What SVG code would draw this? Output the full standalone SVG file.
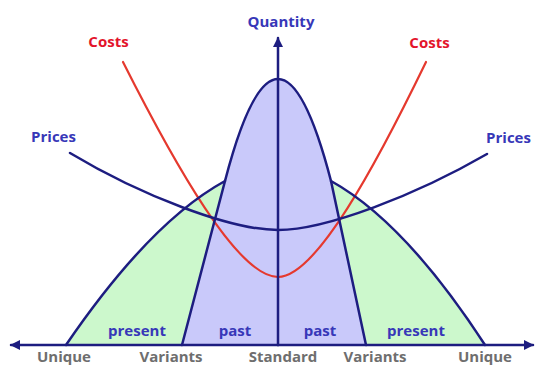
<svg xmlns="http://www.w3.org/2000/svg" width="535" height="365" viewBox="0 0 535 365">
  <defs>
    <style>
      .lbl { font-family: "Open Sans", "Liberation Sans", sans-serif; font-weight: bold; font-size: 15px; text-anchor: middle; }
      .blue { fill: #3737b8; }
      .red { fill: #e3142b; }
      .gray { fill: #6e6e6e; }
      .navy { fill: none; stroke: #1d1d80; stroke-width: 2.5; stroke-linejoin: round; stroke-linecap: round; }
      .cost { fill: none; stroke: #e5392e; stroke-width: 2.2; stroke-linecap: round; }
    </style>
    <marker id="arr" viewBox="0 0 10 10" refX="9" refY="5" markerWidth="10" markerHeight="10" markerUnits="userSpaceOnUse" orient="auto">
      <path d="M0,0 L10,5 L0,10 Z" fill="#1d1d80"/>
    </marker>
  </defs>
  <rect width="535" height="365" fill="#ffffff"/>

  <g id="areas">
    <path id="green" d="M66,345 Q150,222 225,181 L331,181 Q405,222 485,345 Z" fill="#ccf8cc"/>
    <path id="purple" d="M182,345 L225,181 Q278,-23 331,181 L366,345 Z" fill="#c9c9fa"/>
  </g>

  <g id="connectors">
    <path id="costs-curve" class="cost" d="M123,62 C175,165 238,277 278,277 C316,277 376,165 426,62"/>
    <path id="green-outline" class="navy" d="M66,345 Q150,222 225,181 M331,181 Q405,222 485,345"/>
    <path id="bell-outline" class="navy" d="M182,345 L225,181 Q278,-23 331,181 L366,345"/>
    <path id="prices-curve" class="navy" d="M70,153 C140,195 230,230 278,230 C326,230 416,195 487,154"/>
    <line id="x-axis-left" class="navy" x1="278" y1="345" x2="11" y2="345" marker-end="url(#arr)"/>
    <line id="x-axis-right" class="navy" x1="278" y1="345" x2="533" y2="345" marker-end="url(#arr)"/>
    <line id="y-axis" class="navy" x1="278" y1="345" x2="278" y2="38" marker-end="url(#arr)"/>
  </g>

  <g id="label-quantity"><text class="lbl blue" x="281" y="27">Quantity</text></g>
  <g id="label-costs-left"><text class="lbl red" x="108.5" y="47">Costs</text></g>
  <g id="label-costs-right"><text class="lbl red" x="429.5" y="48">Costs</text></g>
  <g id="label-prices-left"><text class="lbl blue" x="53.5" y="142">Prices</text></g>
  <g id="label-prices-right"><text class="lbl blue" x="508.5" y="143">Prices</text></g>

  <g id="label-present-left"><text class="lbl blue" x="137" y="336">present</text></g>
  <g id="label-past-left"><text class="lbl blue" x="235" y="336">past</text></g>
  <g id="label-past-right"><text class="lbl blue" x="320" y="336">past</text></g>
  <g id="label-present-right"><text class="lbl blue" x="416" y="336">present</text></g>

  <g id="label-unique-left"><text class="lbl gray" x="64" y="362">Unique</text></g>
  <g id="label-variants-left"><text class="lbl gray" x="171" y="362">Variants</text></g>
  <g id="label-standard"><text class="lbl gray" x="283" y="362">Standard</text></g>
  <g id="label-variants-right"><text class="lbl gray" x="375" y="362">Variants</text></g>
  <g id="label-unique-right"><text class="lbl gray" x="485" y="362">Unique</text></g>
</svg>
